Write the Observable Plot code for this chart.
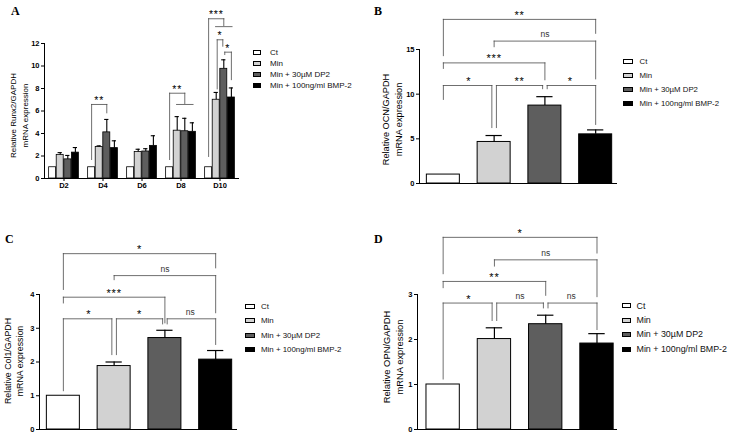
<!DOCTYPE html>
<html><head><meta charset="utf-8">
<script src="https://cdn.jsdelivr.net/npm/d3@7"></script>
<script src="https://cdn.jsdelivr.net/npm/@observablehq/plot@0.6"></script>
<style>
body{margin:0;background:#fff;}
#fig{position:relative;width:733px;height:437px;overflow:hidden;font-family:"Liberation Sans",Arial,sans-serif;color:#000;}
.panel{position:absolute;}
.panel svg{overflow:visible;}
.letter{position:absolute;font-family:"Liberation Serif","Times New Roman",serif;font-weight:bold;font-size:12px;line-height:12px;}
.lrow{position:absolute;white-space:nowrap;display:flex;align-items:center;height:10px;color:#111;}
.sw{display:inline-block;box-sizing:border-box;border:1px solid #000;}
</style></head><body><div id="fig"></div>
<script>
// ---------- data ----------
const groups = ["Ct", "Min", "Min + 30µM DP2", "Min + 100ng/ml BMP-2"];
const fills = ["#ffffff", "#d2d2d2", "#5e5e5e", "#000000"];

// Panel A: Runx2 by day
const days = ["D2", "D4", "D6", "D8", "D10"];
const runx2Mean = [
  [1, 2.1, 1.7, 2.3],
  [1, 2.8, 4.1, 2.7],
  [1, 2.35, 2.4, 2.9],
  [1, 4.25, 4.2, 4.15],
  [1, 7.0, 9.75, 7.2]
];
const runx2Err = [
  [0, 0.2, 0.35, 0.45],
  [0, 0.1, 1.15, 0.65],
  [0, 0.25, 0.25, 0.9],
  [0, 1.25, 1.15, 0.8],
  [0, 0.65, 0.8, 0.85]
];
const yTicksA = [0, 2, 4, 6, 8, 10, 12];
const pairsA = [
  {day: "D4", from: 0, to: 2, y: 6.58, yFrom: 1.6, yTo: 5.75, label: "**"},
  {day: "D10", from: 1, to: 2, y: 12.33, yFrom: 7.88, yTo: 11.67, label: "*"},
  {day: "D10", from: 2, to: 3, y: 11.23, yFrom: 10.93, yTo: 8.7, label: "*"}
];
const groupBracketsA = [
  {day: "D8", y: 7.58, yFrom: 1.6, yGroup: 6.58, label: "**"},
  {day: "D10", y: 14.2, yFrom: 1.87, yGroup: 13.5, label: "***"}
];

// Panel B: OCN
const ocnMean = [1, 4.65, 8.72, 5.5];
const ocnErr = [0, 0.72, 1.0, 0.5];
const yTicksB = [0, 5, 10, 15];
const bracketsB = [
  {from: 0, to: 3, y: 18.37, yFrom: 14.2, yTo: 16.7, label: "**"},
  {from: 1, to: 3, y: 15.94, yFrom: 15.2, yTo: 11.6, label: "ns"},
  {from: 0, to: 2, y: 13.5, yFrom: 12.77, yTo: 11.5, label: "***"},
  {from: 0, to: 1, y: 10.97, yFrom: 9.3, yTo: 6.15, label: "*"},
  {from: 1, to: 2, y: 10.97, yFrom: 6.15, yTo: 10.5, label: "**"},
  {from: 2, to: 3, y: 10.97, yFrom: 10.5, yTo: 6.5, label: "*"}
];

// Panel C: Col1
const col1Mean = [1, 1.88, 2.71, 2.07];
const col1Err = [0, 0.12, 0.23, 0.27];
const yTicksC = [0, 1, 2, 3, 4];
const bracketsC = [
  {from: 0, to: 3, y: 5.21, yFrom: 4.12, yTo: 4.76, label: "*"},
  {from: 1, to: 3, y: 4.56, yFrom: 4.41, yTo: 3.43, label: "ns"},
  {from: 0, to: 2, y: 3.92, yFrom: 3.72, yTo: 3.13, label: "***"},
  {from: 0, to: 1, y: 3.28, yFrom: 1.12, yTo: 2.19, label: "*"},
  {from: 1, to: 2, y: 3.28, yFrom: 2.19, yTo: 3.1, label: "*"},
  {from: 2, to: 3, y: 3.28, yFrom: 3.1, yTo: 2.49, label: "ns"}
];

// Panel D: OPN
const opnMean = [1, 2.01, 2.34, 1.91];
const opnErr = [0, 0.25, 0.2, 0.22];
const yTicksD = [0, 1, 2, 3];
const bracketsD = [
  {from: 0, to: 3, y: 4.27, yFrom: 3.44, yTo: 3.9, label: "*"},
  {from: 1, to: 3, y: 3.77, yFrom: 3.61, yTo: 2.93, label: "ns"},
  {from: 0, to: 2, y: 3.29, yFrom: 3.13, yTo: 2.96, label: "**"},
  {from: 0, to: 1, y: 2.81, yFrom: 1.1, yTo: 2.4, label: "*"},
  {from: 1, to: 2, y: 2.81, yFrom: 2.4, yTo: 2.68, label: "ns"},
  {from: 2, to: 3, y: 2.81, yFrom: 2.68, yTo: 2.2, label: "ns"}
];

// ---------- styles ----------
const FONT = "Liberation Sans, Arial, sans-serif";
const BR = "#4a4a4a";
const fig = document.getElementById("fig");

function place(node, left, top) {
  const d = document.createElement("div");
  d.className = "panel";
  d.style.left = left + "px";
  d.style.top = top + "px";
  d.appendChild(node);
  fig.appendChild(d);
  node.querySelectorAll("text").forEach(t => {
    if (/^\*+$/.test(t.textContent)) t.style.letterSpacing = "0.8px";
  });
}

function legend(left, rowsY, swW, swH, labelOffset, fontSize) {
  groups.forEach((g, i) => {
    const r = document.createElement("div");
    r.className = "lrow";
    r.style.left = left + "px";
    r.style.top = (rowsY[i] - 5) + "px";
    r.style.fontSize = fontSize + "px";
    const s = document.createElement("span");
    s.className = "sw";
    s.style.width = swW + "px";
    s.style.height = swH + "px";
    s.style.background = fills[i];
    s.style.marginRight = (labelOffset - swW) + "px";
    r.appendChild(s);
    r.appendChild(document.createTextNode(g));
    fig.appendChild(r);
  });
}

function letter(ch, left, top) {
  const d = document.createElement("div");
  d.className = "letter";
  d.style.left = left + "px";
  d.style.top = top + "px";
  d.textContent = ch;
  fig.appendChild(d);
}

// ---------- panel A ----------
(function () {
  const rows = days.flatMap((day, di) => groups.map((g, i) => ({day, group: g, i, mean: runx2Mean[di][i], err: runx2Err[di][i]})));
  const errRows = rows.filter(d => d.err > 0);
  const xDom = [-1.07, 4.07], yDom = [0, 12], bw = 0.92, cap = 0.28, gap = 0.13;
  const adj = d => Math.abs(d.to - d.from) === 1;
  const bx1 = d => d.from + (adj(d) && d.from > 0 ? gap : 0);
  const bx2 = d => d.to - (adj(d) && d.to < 3 ? gap : 0);
  const sw = 0.8;
  const svg = Plot.plot({
    width: 250, height: 200,
    marginLeft: 42, marginRight: 10, marginTop: 43, marginBottom: 22,
    fx: {domain: days, padding: 0},
    x: {domain: xDom, axis: null},
    y: {domain: yDom, axis: null},
    color: {domain: groups, range: fills},
    style: {fontFamily: FONT, background: "transparent"},
    marks: [
      Plot.rect(rows, {fx: "day", x1: d => d.i - bw / 2, x2: d => d.i + bw / 2, y1: 0, y2: "mean", fill: "group", stroke: "#000", strokeWidth: 0.8}),
      Plot.ruleX(errRows, {fx: "day", x: "i", y1: "mean", y2: d => d.mean + d.err, stroke: "#000", strokeWidth: 1.1}),
      Plot.ruleY(errRows, {fx: "day", y: d => d.mean + d.err, x1: d => d.i - cap, x2: d => d.i + cap, stroke: "#000", strokeWidth: 1.1}),
      Plot.ruleY([0], {stroke: "#000", strokeWidth: 1}),
      Plot.ruleX([xDom[0]], {fx: ["D2"], y1: yDom[0], y2: yDom[1], stroke: "#000", strokeWidth: 1}),
      Plot.axisY(yTicksA, {tickSize: 3, tickPadding: 2, fontSize: 7.5, fontWeight: "bold", label: null}),
      Plot.axisFx({anchor: "bottom", tickSize: 3, tickPadding: 1, fontSize: 7.5, fontWeight: "bold", label: null}),
      Plot.text(["Relative Runx2/GAPDH\nmRNA expression"], {fx: ["D2"], x: [xDom[0]], y: [(yDom[0] + yDom[1]) / 2], textAnchor: "middle", rotate: -90, dx: -26, dy: 4.5, lineAnchor: "middle", fontSize: 8, lineHeight: 1.45}),
      // pair brackets
      Plot.link(pairsA, {fx: "day", x1: bx1, x2: bx2, y1: "y", y2: "y", stroke: BR, strokeWidth: sw, strokeLinecap: "square"}),
      Plot.ruleX(pairsA, {fx: "day", x: bx1, y1: "yFrom", y2: "y", stroke: BR, strokeWidth: sw}),
      Plot.ruleX(pairsA, {fx: "day", x: bx2, y1: "yTo", y2: "y", stroke: BR, strokeWidth: sw}),
      Plot.text(pairsA, {fx: "day", x: d => (d.from + d.to) / 2, y: "y", text: "label", lineAnchor: "bottom", dy: -0.5, fontSize: 10.5, fill: "#000"}),
      // one-vs-group brackets (Ct vs Min..BMP)
      Plot.link(groupBracketsA, {fx: "day", x1: () => 0, x2: () => 2, y1: "y", y2: "y", stroke: BR, strokeWidth: sw, strokeLinecap: "square"}),
      Plot.ruleX(groupBracketsA, {fx: "day", x: () => 0, y1: "yFrom", y2: "y", stroke: BR, strokeWidth: sw}),
      Plot.ruleX(groupBracketsA, {fx: "day", x: () => 2, y1: "yGroup", y2: "y", stroke: BR, strokeWidth: sw}),
      Plot.link(groupBracketsA, {fx: "day", x1: () => 0.85, x2: () => 3.15, y1: "yGroup", y2: "yGroup", stroke: BR, strokeWidth: sw}),
      Plot.text(groupBracketsA, {fx: "day", x: () => 1, y: "y", text: "label", lineAnchor: "bottom", dy: -0.5, fontSize: 10.5, fill: "#000"})
    ]
  });
  place(svg, 0, 0);
})();

// ---------- panels B, C, D ----------
function simplePanel(o) {
  const rows = groups.map((g, i) => ({group: g, i, mean: o.means[i], err: o.errs[i]}));
  const errRows = rows.filter(d => d.err > 0);
  const bw = 0.65, cap = 0.16, gap = 0.045, sw = 0.8;
  const adj = d => Math.abs(d.to - d.from) === 1;
  const bx1 = d => d.from + (adj(d) && d.from > 0 ? gap : 0);
  const bx2 = d => d.to - (adj(d) && d.to < 3 ? gap : 0);
  const stars = o.brackets.filter(d => d.label !== "ns");
  const ns = o.brackets.filter(d => d.label === "ns");
  const svg = Plot.plot({
    width: o.width, height: o.height,
    marginLeft: o.marginLeft, marginRight: o.marginRight, marginTop: o.marginTop, marginBottom: o.marginBottom,
    x: {domain: o.xDomain, axis: null},
    y: {domain: o.yDomain, axis: null},
    color: {domain: groups, range: fills},
    style: {fontFamily: FONT, background: "transparent"},
    marks: [
      Plot.rect(rows, {x1: d => d.i - bw / 2, x2: d => d.i + bw / 2, y1: 0, y2: "mean", fill: "group", stroke: "#000", strokeWidth: 1}),
      Plot.ruleX(errRows, {x: "i", y1: "mean", y2: d => d.mean + d.err, stroke: "#000", strokeWidth: 1.2}),
      Plot.ruleY(errRows, {y: d => d.mean + d.err, x1: d => d.i - cap, x2: d => d.i + cap, stroke: "#000", strokeWidth: 1.2}),
      Plot.ruleY([0], {stroke: "#000", strokeWidth: 1}),
      Plot.ruleX([o.xDomain[0]], {y1: o.yDomain[0], y2: o.yDomain[1], stroke: "#000", strokeWidth: 1}),
      Plot.axisY(o.yTicks, {tickSize: 3, tickPadding: 2, fontSize: 7.5, fontWeight: "bold", label: null}),
      Plot.text([o.title], {x: [o.xDomain[0]], y: [(o.yDomain[0] + o.yDomain[1]) / 2], textAnchor: "middle", rotate: -90, dx: o.titleDx, dy: o.titleDy, lineAnchor: "middle", fontSize: o.titleSize, lineHeight: 1.4}),
      Plot.link(o.brackets, {x1: bx1, x2: bx2, y1: "y", y2: "y", stroke: BR, strokeWidth: sw, strokeLinecap: "square"}),
      Plot.ruleX(o.brackets, {x: bx1, y1: "yFrom", y2: "y", stroke: BR, strokeWidth: sw}),
      Plot.ruleX(o.brackets, {x: bx2, y1: "yTo", y2: "y", stroke: BR, strokeWidth: sw}),
      Plot.text(stars, {x: d => (d.from + d.to) / 2, y: "y", text: "label", lineAnchor: "bottom", dy: -0.5, fontSize: 11, fill: "#000"}),
      Plot.text(ns, {x: d => (d.from + d.to) / 2, y: "y", text: "label", lineAnchor: "bottom", dy: -4, fontSize: 8.5, fill: "#333"})
    ]
  });
  place(svg, o.left, o.top);
}

simplePanel({
  left: 370, top: 0, width: 250, height: 200,
  marginLeft: 49, marginRight: 3, marginTop: 49, marginBottom: 17,
  xDomain: [-0.47, 3.43], yDomain: [0, 15], yTicks: yTicksB,
  means: ocnMean, errs: ocnErr, brackets: bracketsB,
  title: "Relative OCN/GAPDH\nmRNA expression", titleDx: -28.4, titleDy: 3, titleSize: 9.2
});
simplePanel({
  left: 0, top: 215, width: 250, height: 222,
  marginLeft: 39, marginRight: 13, marginTop: 79, marginBottom: 8,
  xDomain: [-0.47, 3.43], yDomain: [0, 4], yTicks: yTicksC,
  means: col1Mean, errs: col1Err, brackets: bracketsC,
  title: "Relative Col1/GAPDH\nmRNA expression", titleDx: -26.2, titleDy: -1, titleSize: 8.8
});
simplePanel({
  left: 370, top: 215, width: 250, height: 222,
  marginLeft: 47, marginRight: 3, marginTop: 79, marginBottom: 8,
  xDomain: [-0.5, 3.4], yDomain: [0, 3], yTicks: yTicksD,
  means: opnMean, errs: opnErr, brackets: bracketsD,
  title: "Relative OPN/GAPDH\nmRNA expression", titleDx: -25, titleDy: -5, titleSize: 9.4
});

// ---------- legends & panel letters ----------
legend(252.5, [52.5, 63, 74, 85], 8, 5, 17.5, 8);
legend(623, [61, 75, 89.3, 103.3], 10, 5, 16.5, 7.8);
legend(245, [306, 320.5, 335, 349.5], 10, 5, 16, 7.9);
legend(621.5, [305.7, 320, 334.3, 349.3], 9, 5, 15, 8.9);

letter("A", 11, 5);
letter("B", 374, 5);
letter("C", 5, 233);
letter("D", 374, 233);
</script></body></html>
